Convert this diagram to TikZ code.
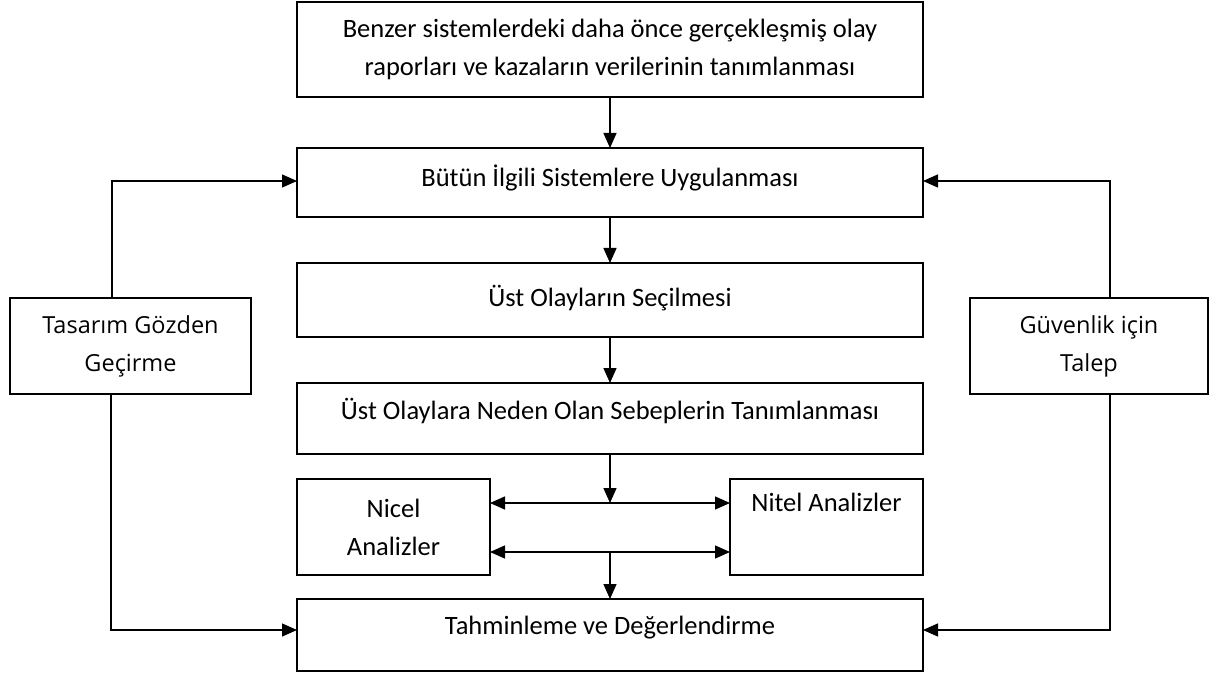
\documentclass[tikz,border=0pt]{standalone}
\usepackage{fontspec}
\setmainfont{Carlito}
\newfontfamily\sidefont{Open Sans}
\usetikzlibrary{arrows.meta}
\begin{document}
\begin{tikzpicture}[x=1pt,y=-1pt,
  every node/.style={inner sep=0pt,outer sep=0pt},
  box/.style={draw,line width=1.4pt,rectangle,align=center,font=\fontsize{26.5}{38}\selectfont},
  mainbox/.style={box,minimum width=626pt},
  sidebox/.style={box,font=\sidefont\fontsize{23.5}{38}\selectfont},
  conn/.style={line width=1.4pt,-{Triangle[length=15pt,width=13pt]}},
  dconn/.style={line width=1.4pt,{Triangle[length=15pt,width=13pt]}-{Triangle[length=15pt,width=13pt]}}]
\useasboundingbox (0,0) rectangle (1213,676);

\node[mainbox,minimum height=95pt] (b1) at (610,49.5)
  {Benzer sistemlerdeki daha önce gerçekleşmiş olay\\raporları ve kazaların verilerinin tanımlanması};
\node[mainbox,minimum height=69pt,text depth=13pt] (b2) at (610,182.5) {Bütün İlgili Sistemlere Uygulanması};
\node[mainbox,minimum height=74pt,text depth=9pt] (b3) at (610,300) {Üst Olayların Seçilmesi};
\node[mainbox,minimum height=71pt,text depth=19pt] (b4) at (610,418.5) {Üst Olaylara Neden Olan Sebeplerin Tanımlanması};
\node[box,minimum width=193pt,minimum height=96pt] (nicel) at (393.5,527) {Nicel\\Analizler};
\node[box,minimum width=193pt,minimum height=96pt] (nitel) at (826.5,527) {Nitel Analizler\\\strut};
\node[mainbox,minimum height=72pt,text depth=19pt] (b5) at (610,635) {Tahminleme ve Değerlendirme};
\node[sidebox,minimum width=241pt,minimum height=96pt] (tas) at (130.5,346) {Tasarım Gözden\\Geçirme};
\node[sidebox,minimum width=238pt,minimum height=96pt] (guv) at (1089,346) {Güvenlik için\\Talep};

\coordinate (ja) at (610,503);
\coordinate (jb) at (610,552);

\draw[conn] (b1) -- (b2);
\draw[conn] (b2) -- (b3);
\draw[conn] (b3) -- (b4);
\draw[conn] (b4) -- (ja);
\draw[dconn] (ja -| nicel.east) -- (ja -| nitel.west);
\draw[dconn] (jb -| nicel.east) -- (jb -| nitel.west);
\draw[conn] (jb) -- (b5);

\draw[conn] ([xshift=-18.5pt]tas.north) |- ([yshift=1.5pt]b2.west);
\draw[conn] ([xshift=-19.5pt]tas.south) |- ([yshift=5pt]b5.west);
\draw[conn] ([xshift=21pt]guv.north) |- ([yshift=1.5pt]b2.east);
\draw[conn] ([xshift=21pt]guv.south) |- ([yshift=5pt]b5.east);
\end{tikzpicture}
\end{document}
